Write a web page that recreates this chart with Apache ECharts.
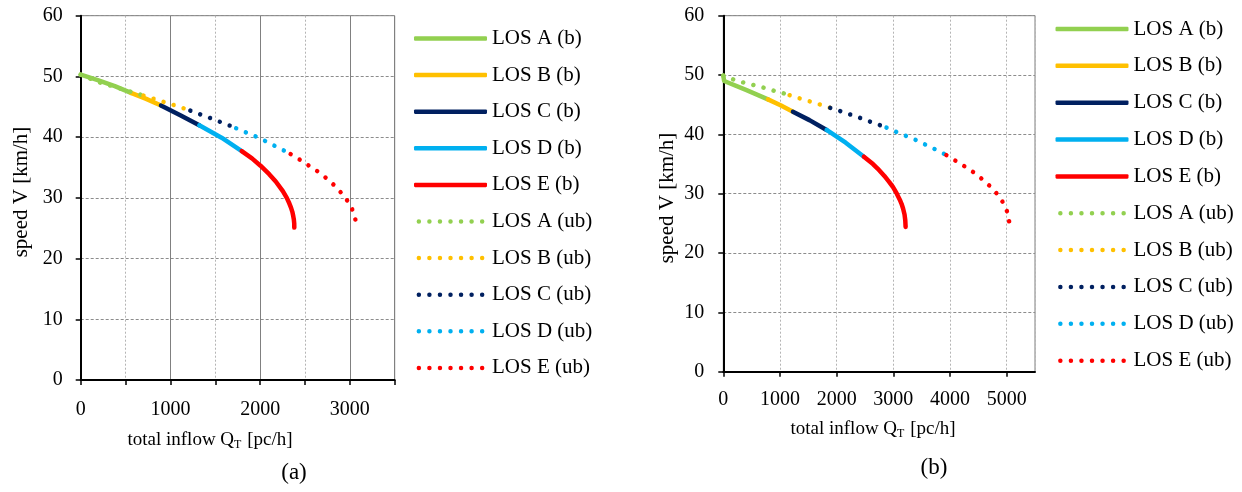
<!DOCTYPE html>
<html>
<head>
<meta charset="utf-8">
<script src="https://cdn.jsdelivr.net/npm/echarts@6/dist/echarts.min.js"></script>
<style>
html,body{margin:0;padding:0;background:#fff;}
#chart{width:1242px;height:492px;}
</style>
</head>
<body>
<div id="chart"></div>
<script>
// ---------- data: [total inflow Q_T (pc/h), speed V (km/h)] ----------
const seriesNames = ['LOS A (b)','LOS B (b)','LOS C (b)','LOS D (b)','LOS E (b)',
                     'LOS A (ub)','LOS B (ub)','LOS C (ub)','LOS D (ub)','LOS E (ub)'];
const losColors = ['#92D050','#FFC000','#002060','#00B0F0','#FF0000'];

// chart (a)
const a_LOS_A_b = [[0,50.3],[190,49.4],[380,48.4],[561,47.3]];
const a_LOS_B_b = [[561,47.3],[730,46.3],[895,45.2]];
const a_LOS_C_b = [[895,45.2],[1110,43.6],[1322,41.95]];
const a_LOS_D_b = [[1322,41.95],[1570,39.9],[1795,37.7]];
const a_LOS_E_b = [[1795,37.7],[1909,36.5],[2004,35.3],[2101,33.9],[2174,32.7],[2253,31.1],[2297,30.0],[2325,29.1],[2344,28.4],[2359,27.7],[2369,27.0],[2376,26.4],[2380,25.8],[2381,25.1]];
const a_LOS_A_ub = [[0,50.3],[189,49.1],[420,48.1],[653,47.06],[700,46.85]];
const a_LOS_B_ub = [[700,46.85],[858,46.1],[977,45.58],[1092,45.03],[1200,44.48],[1222,44.37]];
const a_LOS_C_ub = [[1222,44.37],[1360,43.6],[1471,43.0],[1583,42.34],[1690,41.74],[1733,41.46]];
const a_LOS_D_ub = [[1733,41.46],[1880,40.53],[1991,39.87],[2099,39.04],[2203,38.27],[2311,37.45],[2340,37.2]];
const a_LOS_E_ub = [[2340,37.2],[2475,36.0],[2575,35.0],[2672,34.05],[2761,32.95],[2850,31.75],[2928,30.4],[2999,29.0],[3047,27.4],[3073,25.7]];

// chart (b)
const b_LOS_A_b = [[0,49.9],[15,49.0],[400,47.5],[788,45.9]];
const b_LOS_B_b = [[788,45.9],[1010,44.9],[1229,43.8]];
const b_LOS_C_b = [[1229,43.8],[1520,42.4],[1823,40.74]];
const b_LOS_D_b = [[1823,40.74],[2160,38.6],[2481,36.24]];
const b_LOS_E_b = [[2481,36.24],[2641,35.0],[2727,34.2],[2842,33.0],[2926,32.0],[2995,31.1],[3062,30.0],[3114,29.0],[3145,28.3],[3172,27.5],[3198,26.5],[3211,25.5],[3217,24.4]];
const b_LOS_A_ub = [[0,49.9],[171,49.28],[365,48.71],[554,48.27],[730,47.82],[907,47.31],[1083,46.86],[1170,46.6]];
const b_LOS_B_ub = [[1170,46.6],[1259,46.3],[1446,45.79],[1623,45.29],[1799,44.73],[1887,44.47]];
const b_LOS_C_ub = [[1887,44.47],[1975,44.22],[2159,43.6],[2335,43.05],[2511,42.42],[2693,41.8],[2864,41.19],[2880,41.13]];
const b_LOS_D_ub = [[2880,41.13],[3069,40.35],[3240,39.68],[3411,39.0],[3580,38.21],[3751,37.42],[3922,36.58],[3936,36.5]];
const b_LOS_E_ub = [[3936,36.5],[4116,35.46],[4275,34.5],[4433,33.49],[4580,32.36],[4716,31.18],[4845,29.83],[4945,28.38],[5021,26.7],[5051,24.9]];

// axis ticks
const yTicks = {min:0, max:60, interval:10};
const xTicksA = {min:0, max:3500, major:1000, minor:500};
const xTicksB = {min:0, max:5500, interval:1000};

const xTitle = 'total inflow Q{sub|T} [pc/h]';
const yTitle = 'speed V [km/h]';
const captions = ['(a)','(b)'];

const dataA = [a_LOS_A_b,a_LOS_B_b,a_LOS_C_b,a_LOS_D_b,a_LOS_E_b,a_LOS_A_ub,a_LOS_B_ub,a_LOS_C_ub,a_LOS_D_ub,a_LOS_E_ub];
const dataB = [b_LOS_A_b,b_LOS_B_b,b_LOS_C_b,b_LOS_D_b,b_LOS_E_b,b_LOS_A_ub,b_LOS_B_ub,b_LOS_C_ub,b_LOS_D_ub,b_LOS_E_ub];

// ---------- chart ----------
const FONT = '"Liberation Serif", "Times New Roman", serif';
const chart = echarts.init(document.getElementById('chart'), null, {renderer:'canvas'});

// legend icon for dotted series: 7 round dots
function dotsPath() {
  const r = 2.25, step = 10.55;
  let p = 'path://';
  for (let k = 0; k < 7; k++) {
    const cx = r + step * k;
    p += 'M' + (cx - r) + ',' + r + ' A' + r + ',' + r + ' 0 1,0 ' + (cx + r) + ',' + r +
         ' A' + r + ',' + r + ' 0 1,0 ' + (cx - r) + ',' + r + ' Z ';
  }
  return p;
}
const DOTS = dotsPath();

function mkSeries(data, xIdx, yIdx) {
  return data.map((d, i) => {
    const ub = i >= 5;
    return {
      name: seriesNames[i],
      type: 'line',
      xAxisIndex: xIdx, yAxisIndex: yIdx,
      data: d,
      symbol: 'none',
      silent: true,
      z: ub ? 3 : 2,
      color: losColors[i % 5],
      itemStyle: {color: losColors[i % 5]},
      lineStyle: ub
        ? {color: losColors[i % 5], width: 4.5, type: [0.01, 10.5], cap: 'round'}
        : {color: losColors[i % 5], width: 4.5, type: 'solid', cap: 'round', join: 'round'}
    };
  });
}

const labelStyle = {color:'#000', fontFamily: FONT, fontSize: 20, formatter: v => String(v)};
const yAxisCommon = {
  type:'value', min:yTicks.min, max:yTicks.max, interval:yTicks.interval,
  axisLine:{show:true, onZero:false, lineStyle:{color:'#000', width:2}},
  axisTick:{show:true, inside:false, length:5, lineStyle:{color:'#000', width:1.5}},
  axisLabel:Object.assign({margin:18}, labelStyle),
  splitLine:{show:true, lineStyle:{color:'#8c8c8c', width:1, type:[3,2]}}
};

const legendData = seriesNames.map((n, i) => ({name: n, icon: i < 5 ? 'roundRect' : DOTS}));
const legendCommon = {
  orient:'vertical', selectedMode:false, data:legendData, padding:0,
  itemWidth:73, itemHeight:4.5, itemGap:14.6, symbolKeepAspect:true,
  textStyle:{color:'#000', fontFamily:FONT, fontSize:21, lineHeight:22}
};

const option = {
  animation:false,
  backgroundColor:'#fff',
  grid:[
    {left:80.7, top:15.7, width:314, height:364.3, show:true, borderColor:'#7f7f7f', borderWidth:1, backgroundColor:'transparent'},
    {left:723.3, top:15.7, width:311.7, height:356, show:true, borderColor:'#7f7f7f', borderWidth:1, backgroundColor:'transparent'}
  ],
  xAxis:[
    // (a) minor axis: dotted 500 grid + ticks
    {gridIndex:0, type:'value', position:'bottom', min:xTicksA.min, max:xTicksA.max, interval:xTicksA.minor,
     axisLine:{show:false}, axisTick:{show:true, inside:false, length:5, lineStyle:{color:'#000', width:1.5}},
     axisLabel:{show:false}, splitLine:{show:true, lineStyle:{color:'#b4b4b4', width:1, type:[2,2]}}},
    // (a) major axis: solid 1000 grid + labels
    {gridIndex:0, type:'value', position:'bottom', min:xTicksA.min, max:xTicksA.max, interval:xTicksA.major,
     axisLine:{show:true, onZero:false, lineStyle:{color:'#000', width:2}}, axisTick:{show:false},
     axisLabel:Object.assign({margin:20, showMaxLabel:false}, labelStyle),
     splitLine:{show:true, lineStyle:{color:'#808080', width:1, type:'solid'}}},
    // (b)
    {gridIndex:1, type:'value', position:'bottom', min:xTicksB.min, max:xTicksB.max, interval:xTicksB.interval,
     axisLine:{show:true, onZero:false, lineStyle:{color:'#000', width:2}},
     axisTick:{show:true, inside:false, length:5, lineStyle:{color:'#000', width:1.5}},
     axisLabel:Object.assign({margin:18, showMaxLabel:false}, labelStyle),
     splitLine:{show:true, lineStyle:{color:'#b4b4b4', width:1, type:[2,2]}}}
  ],
  yAxis:[
    Object.assign({gridIndex:0}, yAxisCommon),
    Object.assign({gridIndex:1}, yAxisCommon, {axisLabel:Object.assign({margin:19}, labelStyle)})
  ],
  legend:[
    Object.assign({}, legendCommon, {left:414, top:27.5}),
    Object.assign({}, legendCommon, {left:1055.5, top:18, itemGap:14.85})
  ],
  graphic:[
    {type:'text', x:210, y:440, style:{text:xTitle, fill:'#000', font:'19px ' + FONT, align:'center', verticalAlign:'middle',
      rich:{sub:{fontSize:12, fontFamily:FONT, verticalAlign:'bottom', padding:[9,1,0,0]}}}},
    {type:'text', x:873, y:429, style:{text:xTitle, fill:'#000', font:'19px ' + FONT, align:'center', verticalAlign:'middle',
      rich:{sub:{fontSize:12, fontFamily:FONT, verticalAlign:'bottom', padding:[9,1,0,0]}}}},
    {type:'text', x:21.5, y:192, rotation:Math.PI/2, style:{text:yTitle, fill:'#000', font:'21px ' + FONT, align:'center', verticalAlign:'middle'}},
    {type:'text', x:667, y:198, rotation:Math.PI/2, style:{text:yTitle, fill:'#000', font:'21px ' + FONT, align:'center', verticalAlign:'middle'}},
    {type:'text', x:294, y:473, style:{text:captions[0], fill:'#000', font:'23px ' + FONT, align:'center', verticalAlign:'middle'}},
    {type:'text', x:934, y:468, style:{text:captions[1], fill:'#000', font:'23px ' + FONT, align:'center', verticalAlign:'middle'}}
  ],
  series: mkSeries(dataA, 1, 0).concat(mkSeries(dataB, 2, 1))
};
chart.setOption(option);
</script>
</body>
</html>
